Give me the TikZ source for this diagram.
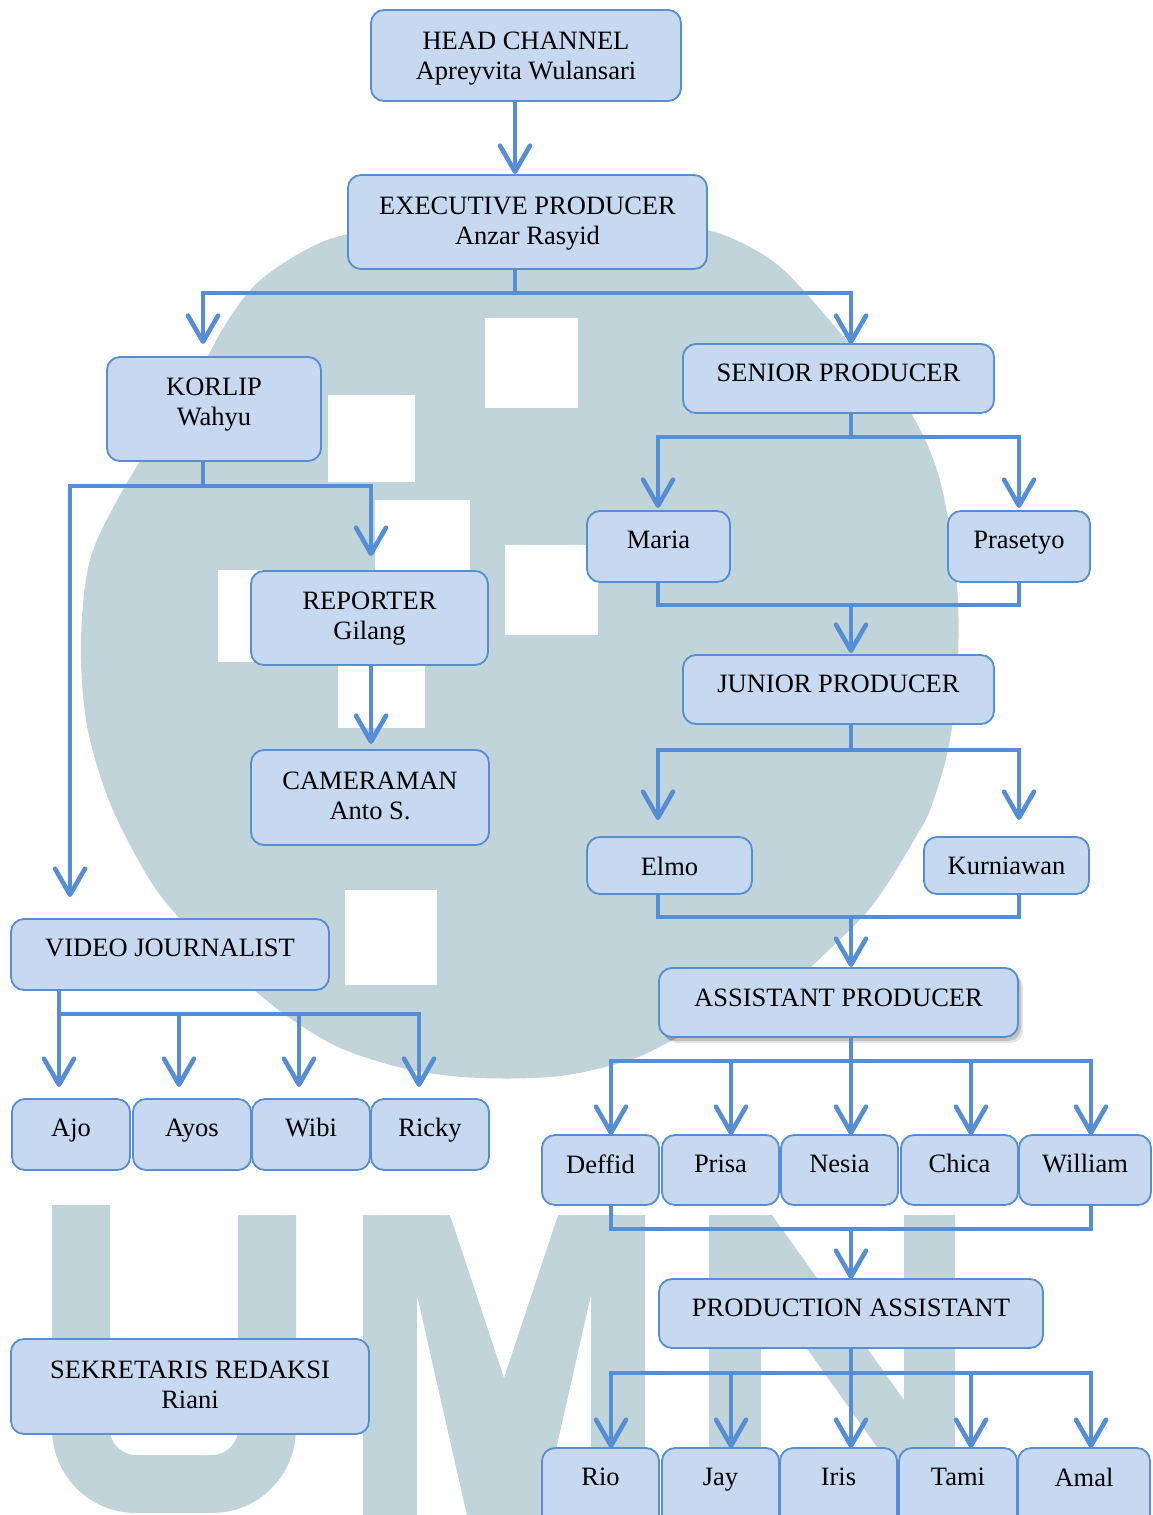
\documentclass[tikz,border=0pt]{standalone}
\usepackage{fontspec}
\setmainfont{Liberation Serif}
\usetikzlibrary{arrows.meta,shadows,calc}
\definecolor{lineblue}{HTML}{558ED5}
\definecolor{boxfill}{HTML}{C6D9F1}
\definecolor{wmark}{HTML}{C1D4DA}
\tikzset{
  orgbox/.style={draw=lineblue, fill=boxfill, line width=1.8pt, rounded corners=13pt, anchor=north west, inner sep=0pt, outer sep=0pt},
  orgtxt/.style={anchor=north, inner sep=0pt, outer sep=0pt, align=center, font=\fontsize{26.5}{30.5}\selectfont},
  conn/.style={draw=lineblue, line width=4.6pt},
  arr/.style={conn, -{Straight Barb[length=26pt,width=30pt,round]}},
  arrb/.style={conn, {Straight Barb[length=26pt,width=30pt,round]}-{Straight Barb[length=26pt,width=30pt,round]}},
}
\newcommand{\obox}[7]{%
  \node[orgbox, minimum width=#4, minimum height=#5] (#1) at (#2,#3) {};
  \node[orgtxt] (#1t) at ([yshift=-#6pt]#1.north) {#7};}
\begin{document}
\begin{tikzpicture}[x=1pt,y=-1pt]
\useasboundingbox (0,0) rectangle (1152,1515);
\clip (0,0) rectangle (1152,1515);
\fill[white] (0,0) rectangle (1152,1515);
% ---------- watermark ----------
\fill[wmark] plot[smooth cycle, tension=0.55] coordinates {
 (520,221) (620,224) (700,229) (740,242) (778,265) (812,300) (845,338) (885,378)
 (915,420) (937,470) (950,530) (958,600) (957,680) (948,750) (930,810) (914,840)
 (890,880) (866,913) (832,947) (800,975) (745,1005) (673,1040) (630,1060) (560,1076)
 (480,1078) (411,1070) (345,1050) (300,1025) (260,995) (205,945) (160,895) (130,845)
 (105,790) (86,720) (81,640) (90,560) (120,495) (160,430) (200,370) (225,325)
 (255,285) (295,256) (340,236) (420,224)};
\fill[white] (485,318) rectangle (578,408);
\fill[white] (328,395) rectangle (415,482);
\fill[white] (375,500) rectangle (470,600);
\fill[white] (505,545) rectangle (598,635);
\fill[white] (218,570) rectangle (305,662);
\fill[white] (338,640) rectangle (425,728);
\fill[white] (345,890) rectangle (437,985);
\draw[wmark, line width=58pt, rounded corners=55pt] (81,1205) -- (81,1484) -- (267,1484) -- (267,1215);
\fill[wmark] (363,1530) -- (363,1215) -- (450,1215) -- (504,1378) -- (558,1215) -- (645,1215) -- (645,1530) -- (591,1530) -- (591,1295) -- (540,1520) -- (468,1520) -- (417,1295) -- (417,1530) -- cycle;
\fill[wmark] (709,1530) -- (709,1215) -- (772,1215) -- (904,1400) -- (904,1215) -- (955,1215) -- (955,1530) -- (904,1530) -- (904,1485) -- (761,1284) -- (761,1530) -- cycle;
% ---------- boxes ----------
\obox{head}{371}{10}{310}{91}{21.5}{HEAD CHANNEL\\Apreyvita Wulansari}
\obox{exec}{348}{175}{359}{94}{21.5}{EXECUTIVE PRODUCER\\Anzar Rasyid}
\obox{korlip}{107}{357}{214}{104}{20.5}{KORLIP\\Wahyu}
\obox{senior}{683}{344}{311}{69}{20}{SENIOR PRODUCER}
\obox{reporter}{251}{571}{237}{94}{20.5}{REPORTER\\Gilang}
\obox{camera}{251}{750}{238}{95}{21.5}{CAMERAMAN\\Anto S.}
\obox{vj}{11}{919}{318}{71}{19.5}{VIDEO JOURNALIST}
\obox{ajo}{12}{1099}{118}{71}{19.5}{Ajo}
\obox{ayos}{133}{1099}{118}{71}{19.5}{Ayos}
\obox{wibi}{252}{1099}{118}{71}{19.5}{Wibi}
\obox{ricky}{371}{1099}{118}{71}{19.5}{Ricky}
\obox{maria}{587}{511}{143}{71}{20}{Maria}
\obox{prasetyo}{948}{511}{142}{71}{20}{Prasetyo}
\obox{junior}{683}{655}{311}{69}{20}{JUNIOR PRODUCER}
\obox{elmo}{587}{837}{165}{57}{20}{Elmo}
\obox{kurni}{924}{837}{165}{57}{20}{Kurniawan}
\node[orgbox, minimum width=359, minimum height=69,
  drop shadow={shadow xshift=5pt, shadow yshift=-6pt, opacity=0.10, fill=black},
  drop shadow={shadow xshift=3pt, shadow yshift=-4pt, opacity=0.15, fill=black}] (assist) at (659,968) {};
\node[orgtxt] (assistt) at ([yshift=-20.5pt]assist.north) {ASSISTANT PRODUCER};
\obox{deffid}{542}{1135}{117}{70}{19.5}{Deffid}
\obox{prisa}{662}{1135}{117}{70}{19.5}{Prisa}
\obox{nesia}{781}{1135}{117}{70}{19.5}{Nesia}
\obox{chica}{901}{1135}{117}{70}{19.5}{Chica}
\obox{william}{1019}{1135}{132}{70}{19.5}{William}
\obox{prodas}{659}{1279}{384}{69}{19.5}{PRODUCTION ASSISTANT}
\obox{rio}{542}{1448}{117}{82}{20}{Rio}
\obox{jay}{662}{1448}{117}{82}{20}{Jay}
\obox{iris}{780}{1448}{117}{82}{20}{Iris}
\obox{tami}{899}{1448}{118}{82}{20}{Tami}
\obox{amal}{1018}{1448}{132}{82}{20}{Amal}
\obox{sek}{11}{1339}{358}{95}{21.5}{SEKRETARIS REDAKSI\\Riani}
% ---------- junction coordinates ----------
\coordinate (eL) at (203,293); \coordinate (eM) at (515,293); \coordinate (eR) at (851,293);
\coordinate (kL) at (70,486);  \coordinate (kM) at (203,486); \coordinate (kR) at (371,486);
\coordinate (vL) at (59,1014); \coordinate (v2) at (179,1014); \coordinate (v3) at (299,1014); \coordinate (vR) at (419,1014);
\coordinate (sL) at (658,437); \coordinate (sM) at (851,437); \coordinate (sR) at (1019,437);
\coordinate (mL) at (658,605); \coordinate (mM) at (851,605); \coordinate (mR) at (1019,605);
\coordinate (jL) at (658,750); \coordinate (jM) at (851,750); \coordinate (jR) at (1019,750);
\coordinate (lL) at (658,917); \coordinate (lM) at (851,917); \coordinate (lR) at (1019,917);
\coordinate (aL) at (611,1061); \coordinate (a2) at (731,1061); \coordinate (aM) at (851,1061); \coordinate (a4) at (971,1061); \coordinate (aR) at (1091,1061);
\coordinate (dL) at (611,1229); \coordinate (dM) at (851,1229); \coordinate (dR) at (1091,1229);
\coordinate (pL) at (611,1373); \coordinate (p2) at (731,1373); \coordinate (pM) at (851,1373); \coordinate (p4) at (971,1373); \coordinate (pR) at (1091,1373);
% ---------- connectors ----------
\draw[arr] (head.south -| eM) -- ($(exec.north -| eM)+(0,-1)$);
\draw[conn] (exec.south -| eM) -- (eM);
\draw[arrb] ($(korlip.north -| eL)+(0,-13)$) -- (eL) -- (eR) -- (senior.north -| eR);
\draw[conn] (korlip.south -| kM) -- (kM);
\draw[arrb] ($(vj.north -| kL)+(0,-22)$) -- (kL) -- (kR) -- ($(reporter.north -| kR)+(0,-15)$);
\draw[arr] (reporter.south -| kR) -- ($(camera.north -| kR)+(0,-6)$);
\draw[arr] (vj.south -| vL) -- ($(ajo.north -| vL)+(0,-12)$);
\draw[arr] (vL) -- (vR) -- ($(ricky.north -| vR)+(0,-12)$);
\draw[arr] (v2) -- ($(ayos.north -| v2)+(0,-12)$);
\draw[arr] (v3) -- ($(wibi.north -| v3)+(0,-12)$);
\draw[conn] (senior.south -| sM) -- (sM);
\draw[arrb] ($(maria.north -| sL)+(0,-3)$) -- (sL) -- (sR) -- ($(prasetyo.north -| sR)+(0,-3)$);
\draw[conn] (maria.south -| mL) -- (mL) -- (mR) -- (prasetyo.south -| mR);
\draw[arr] (mM) -- ($(junior.north -| mM)+(0,-2)$);
\draw[conn] (junior.south -| jM) -- (jM);
\draw[arrb] ($(elmo.north -| jL)+(0,-17)$) -- (jL) -- (jR) -- ($(kurni.north -| jR)+(0,-17)$);
\draw[conn] (elmo.south -| lL) -- (lL) -- (lR) -- (kurni.south -| lR);
\draw[arr] (lM) -- ($(assist.north -| lM)+(0,-1)$);
\draw[conn] (assist.south -| aM) -- (aM);
\draw[arrb] (deffid.north -| aL) -- (aL) -- (aR) -- (william.north -| aR);
\draw[arr] (a2) -- (prisa.north -| a2);
\draw[arr] (aM) -- (nesia.north -| aM);
\draw[arr] (a4) -- (chica.north -| a4);
\draw[conn] (deffid.south -| dL) -- (dL) -- (dR) -- (william.south -| dR);
\draw[arr] (dM) -- (prodas.north -| dM);
\draw[arr] (prodas.south -| pM) -- (iris.north -| pM);
\draw[arrb] (rio.north -| pL) -- (pL) -- (pR) -- (amal.north -| pR);
\draw[arr] (p2) -- (jay.north -| p2);
\draw[arr] (p4) -- (tami.north -| p4);
\end{tikzpicture}
\end{document}
